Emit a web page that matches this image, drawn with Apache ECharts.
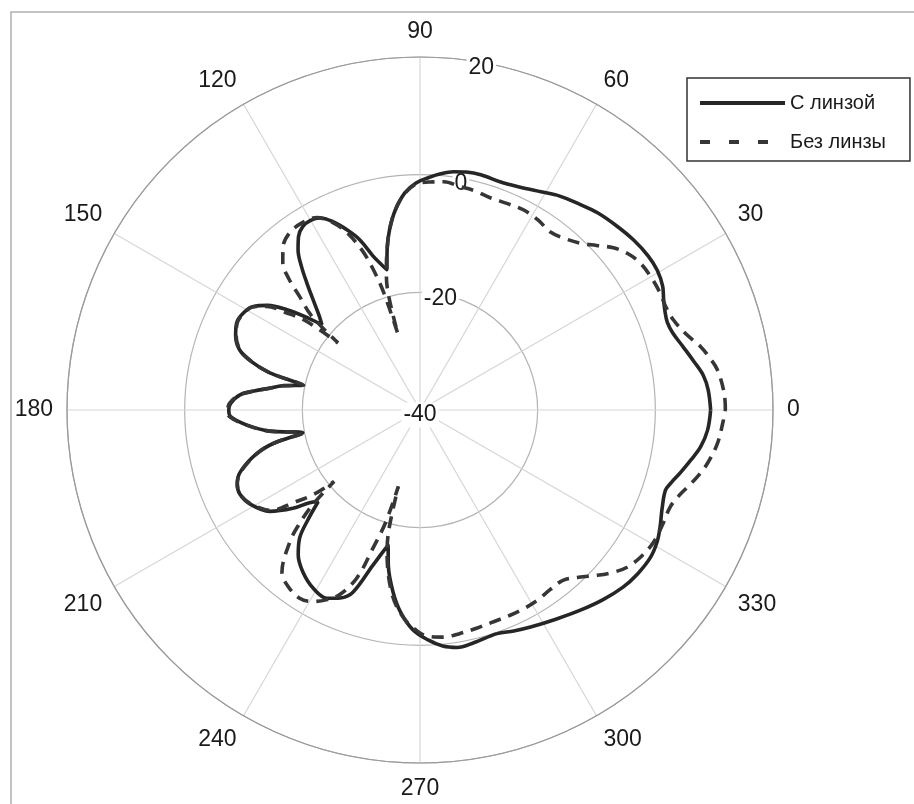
<!DOCTYPE html>
<html>
<head>
<meta charset="utf-8">
<script src="https://cdn.jsdelivr.net/npm/echarts@6/dist/echarts.min.js"></script>
<style>
  html, body { margin: 0; padding: 0; background: #fff; }
  #chart { width: 914px; height: 804px; }
</style>
</head>
<body>
<div id="chart"></div>
<script>
// Radiation pattern, dB versus azimuth (degrees)
const seriesNames = ['С линзой', 'Без линзы'];

const lensAngles = [0, 4, 7, 10, 13.5, 17, 19.5, 22, 24.5, 27, 30.5, 34, 38.5, 43, 48, 52, 57, 61, 66, 70.5,
  75.5, 79, 82, 85, 88, 91, 94, 97, 99.5, 101.5, 103.3, 105, 107, 109.5, 112, 115, 117.5, 120, 122.6, 125,
  127.3, 129.5, 131.7, 134.5, 137, 139, 140.5, 143, 145.5, 148.3, 151.5, 154.6, 158, 161.6, 164, 166, 168, 170, 171.7, 173.5,
  175.2, 178, 180, 182, 185, 188, 191, 192.8, 195, 199, 202, 205, 209, 214, 217.7, 220, 222, 224.5, 226.8, 230,
  234.2, 239, 243.7, 247, 249.8, 253.1, 256.7, 258.5, 261.6, 264.5, 268.2, 272, 275.5, 278.9, 283, 289, 293, 297, 303, 308.7,
  314, 318.9, 323, 327.4, 331, 334, 338, 341.9, 344, 346.4, 349.5, 352.5, 356, 360];
const lensDb = [9.4, 9.1, 8.5, 7.3, 6.0, 4.9, 4.6, 4.9, 5.5, 6.3, 6.8, 6.8, 6.4, 5.8, 5.1, 4.3, 3.4, 2.4, 1.5, 1.1,
  1.3, 1.2, 0.9, 0.3, -0.5, -1.4, -3.0, -5.7, -8.8, -12, -15.5, -14.3, -12.6, -9.3, -7.0, -4.6, -3.2, -2.8, -3.0, -4.0,
  -5.8, -8.3, -11.1, -14.3, -16.6, -17.9, -15.5, -11.7, -8.6, -6.6, -5.7, -5.5, -6.2, -7.7, -10.2, -13.5, -19.6, -16.2, -14.2, -11.6,
  -9.3, -7.8, -7.5, -7.8, -10.5, -14.2, -19.7, -14.5, -11.2, -7.7, -6.5, -6.2, -7.0, -9.2, -12.7, -15.5, -16.7, -13.2, -10.1, -7.8,
  -6.0, -4.7, -4.3, -5.3, -7.0, -12.4, -16.4, -13, -8.7, -5.5, -2.6, -0.9, 0.3, 0.85, 0.6, 0.2, 0.8, 1.4, 2.4, 3.6,
  4.8, 5.8, 6.3, 6.5, 6.1, 5.4, 4.4, 3.9, 4.5, 5.5, 6.8, 8.1, 9.0, 9.4];

const bareAngles = [0, 3, 7.7, 10.5, 12.7, 16, 19.6, 23, 26, 30, 33.7, 37, 40, 43, 46.2, 50, 53.9, 58, 62.7, 67,
  71.7, 76, 80, 84, 87.5, 91, 94, 97, 99.5, 101.5, 103.5, 105, 106.2, 107.2, 108.5, 110, 112.4, 115, 118.2, 122,
  126.3, 130, 133, 135, 136.7, 139, 140.7, 142, 143.9, 146, 148.3, 151.5, 154.6, 158, 161.6, 164, 166, 168, 170, 171.7,
  173.5, 175.2, 178, 180, 182, 185, 188, 191, 192.8, 195, 199, 202, 205, 209, 214, 216.3, 218.5, 219.8, 221.5, 223.5,
  225.4, 229.6, 233, 237.4, 240.5, 243.7, 246.5, 249.4, 251.2, 253, 254.2, 255.3, 256.8, 258.3, 261, 263.3, 266, 268.5, 271.5, 275.8,
  280, 284.7, 289, 293.7, 297.5, 301.6, 306, 310, 313.5, 317, 320, 322.8, 326.5, 330.3, 334.5, 338.8, 341.5, 343.9, 346.5, 349.5,
  353.7, 358.1, 360];
const bareDb = [11.9, 11.8, 11.0, 9.9, 8.9, 7.0, 5.7, 5.3, 5.4, 5.3, 5.0, 4.2, 2.9, 1.0, -0.7, -1.9, -2.5, -2.0, -1.7, -1.9,
  -2.0, -1.6, -1.4, -1.0, -1.2, -1.6, -3.1, -5.7, -8.8, -12, -15.5, -18.5, -26.5, -19, -14.5, -11.0, -7.4, -4.8, -2.9, -2.4,
  -2.6, -3.8, -5.8, -8.5, -11.9, -15.5, -22, -15.5, -12, -8.5, -6.6, -5.8, -5.6, -6.3, -7.8, -10.3, -13.6, -19.8, -16.3, -14.3,
  -11.6, -9.2, -7.6, -7.3, -7.6, -10.4, -14.2, -19.8, -14.6, -11.3, -7.8, -6.5, -6.2, -7.1, -9.5, -13.5, -17, -21, -15.5, -11.5,
  -8.5, -3.8, -2.6, -2.0, -2.6, -4.0, -5.8, -9.5, -15.2, -20, -26.5, -19.5, -15.5, -12.8, -8.8, -6.3, -4.2, -2.8, -1.6, -1.2,
  -1.4, -1.7, -1.9, -1.9, -1.9, -2.0, -2.3, -2.2, -0.8, 1.2, 2.9, 4.2, 5.1, 5.6, 5.6, 5.6, 6.3, 7.3, 8.5, 9.7,
  10.9, 11.6, 11.9];

// Axis ticks
const angleTicks = [0, 30, 60, 90, 120, 150, 180, 210, 240, 270, 300, 330];
const radiusTicks = [-40, -20, 0, 20];

const pairs = (angles, values) => angles.map((a, i) => [values[i], a]);

const FONT = '"Liberation Sans", Arial, sans-serif';
const center = [420, 410];
const labelCenter = [420, 415];   // radial tick labels sit a little below the rings
const radius = 353;
const LINE_W = 3.6;

const chart = echarts.init(document.getElementById('chart'), null, { renderer: 'canvas' });

chart.setOption({
  backgroundColor: '#ffffff',
  animation: false,
  polar: [
    { center: center, radius: radius },
    { center: labelCenter, radius: radius }
  ],
  angleAxis: [
    {
      polarIndex: 0,
      type: 'value',
      min: 0,
      max: 360,
      interval: 30,
      startAngle: 0,
      clockwise: false,
      z: 0,
      axisLine: { show: true, lineStyle: { color: '#9a9a9a', width: 1.2 } },
      axisTick: { show: false },
      axisLabel: {
        show: true,
        margin: 14,
        fontSize: 23,
        fontFamily: FONT,
        color: '#1a1a1a',
        formatter: v => (angleTicks.indexOf(v) >= 0 ? String(v) : '')
      },
      splitLine: { show: true, lineStyle: { color: '#d6d6d6', width: 1.2 } }
    },
    {
      // carries the radial scale along the 80° direction
      polarIndex: 1,
      type: 'value',
      min: 0,
      max: 360,
      startAngle: 80,
      clockwise: false,
      show: false
    }
  ],
  radiusAxis: [
    {
      polarIndex: 0,
      type: 'value',
      min: radiusTicks[0],
      max: radiusTicks[radiusTicks.length - 1],
      interval: 20,
      z: 0,
      axisLine: { show: false },
      axisTick: { show: false },
      axisLabel: { show: false },
      splitLine: { show: true, lineStyle: { color: '#b4b4b4', width: 1.2 } }
    },
    {
      polarIndex: 1,
      type: 'value',
      min: radiusTicks[0],
      max: radiusTicks[radiusTicks.length - 1],
      interval: 20,
      z: 1,
      axisLine: { show: false },
      axisTick: { show: false },
      splitLine: { show: false },
      axisLabel: {
        show: true,
        margin: 0,
        align: 'center',
        verticalAlign: 'middle',
        fontSize: 23,
        fontFamily: FONT,
        color: '#1a1a1a',
        backgroundColor: '#ffffff',
        padding: [1, 2]
      }
    }
  ],
  legend: {
    orient: 'vertical',
    left: 687,
    top: 78,
    padding: [15, 24, 9, 11],
    itemWidth: 85,
    itemHeight: 20,
    itemGap: 19,
    backgroundColor: '#ffffff',
    borderColor: '#333333',
    borderWidth: 1.5,
    borderRadius: 0,
    itemStyle: { opacity: 0 },
    lineStyle: { width: 4 },
    textStyle: { fontSize: 20, fontFamily: FONT, color: '#1a1a1a' },
    data: [
      { name: seriesNames[0] },
      { name: seriesNames[1], lineStyle: { type: [10, 19], width: 4 } }
    ]
  },
  series: [
    {
      name: seriesNames[0],
      type: 'line',
      coordinateSystem: 'polar',
      polarIndex: 0,
      symbol: 'none',
      smooth: 0.35,
      z: 3,
      lineStyle: { color: '#262626', width: LINE_W, type: 'solid' },
      itemStyle: { color: '#262626' },
      data: pairs(lensAngles, lensDb)
    },
    {
      name: seriesNames[1],
      type: 'line',
      coordinateSystem: 'polar',
      polarIndex: 0,
      symbol: 'none',
      smooth: 0.35,
      z: 3,
      lineStyle: { color: '#363636', width: LINE_W, type: [12, 8] },
      itemStyle: { color: '#363636' },
      data: pairs(bareAngles, bareDb)
    }
  ],
  graphic: [
    {
      type: 'polyline',
      silent: true,
      shape: { points: [[11, 804], [11, 12], [914, 12]] },
      style: { stroke: '#b0b0b0', lineWidth: 1.5, fill: null }
    }
  ]
});
</script>
</body>
</html>
